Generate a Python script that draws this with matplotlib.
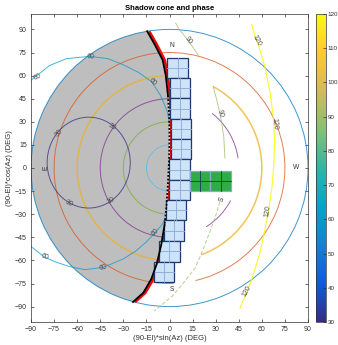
import numpy as np
import matplotlib
matplotlib.use("Agg")
import matplotlib.pyplot as plt
from matplotlib.patches import Circle, Arc, Ellipse, Polygon, Rectangle
from matplotlib.colors import LinearSegmentedColormap, Normalize
import matplotlib.colorbar as mcolorbar

plt.rcParams['font.family'] = ['Liberation Sans', 'DejaVu Sans']

# ---------------------------------------------------------------- data
# elevation rings: radius = 90 - El (deg)
ring_radius = [90, 75, 60, 45, 30, 15]
ring_color = [(0.0, 0.447, 0.741), (0.85, 0.325, 0.098), (0.929, 0.694, 0.125),
              (0.494, 0.184, 0.556), (0.466, 0.674, 0.188), (0.301, 0.745, 0.933)]
ring_width = [0.7, 0.7, 1.1, 0.7, 0.7, 0.7]
# drawn angular spans of each ring (deg, ccw from +x)
ring_spans = [[(0, 360)],
              [(-77, 272)],
              [(93, 268), (-70, 62)],
              [(90, 268), (8, 52), (-58, -28)],
              [(90, 270)],
              [(90, 270)]]

# phase angle contours (deg)
phase_levels = [30, 60, 90, 120]
phase30_center = (-52.5, 3.5)
phase30_size = (54, 59)
phase60_x = [-106, -100, -90, -78, -67, -52, -40, -30, -20, -11.6, -6, -1.8, 1, 2.8, 3,
             2, -1, -5, -9.4, -15, -22, -30, -43, -55, -65, -74, -81, -90, -100, -106, -106]
phase60_y = [20, 48, 57, 66.5, 71, 72.5, 71, 67, 62, 56, 47.5, 37.6, 25, 12, 0,
             -15, -30, -37, -42, -48, -54, -59, -64.5, -66, -64, -61, -58, -51, -42, -15, 20]
phase90_upper_x = [4, 6.8, 12, 18.7]
phase90_upper_y = [94, 89.4, 83, 73.3]
phase90_mid_x = [28.4, 31, 33.5, 35.3, 36]
phase90_mid_y = [52.9, 43, 32, 20, 6.5]
phase90_low_x = [32.8, 30, 26, 20.9, 16.6, 9, 2, -6.2, -10]
phase90_low_y = [-21.8, -31, -42, -55.3, -65, -74.7, -83, -89.8, -93]
phase120_x = [53.5, 54.4, 58, 62, 65.5, 67.4, 68.3, 67.8, 66.5, 64.5, 62, 58.5, 53.4, 49.5, 45.8]
phase120_y = [93, 89.8, 79, 65.9, 48, 33.5, 18, 2, -13, -27, -40, -56, -72.5, -82, -91]

# contour labels: (text, x, y, rotation)
phase_labels = [("30", -71.5, 23, 50), ("30", -37.4, 26.5, -33), ("30", -65.6, -22.7, -27),
                ("30", -37.6, -21, 32),
                ("60", -86, 59, 25), ("60", -51, 72.5, -5), ("60", -11.4, 55.7, -50),
                ("60", -9.4, -42, 45), ("60", -43, -64.6, 12), ("60", -81, -58, -20),
                ("90", 12, 83, -55), ("90", 32.8, 35.6, -75),
                ("120", 56.6, 83, -62), ("120", 68, 29, -85), ("120", 64.2, -28, 82),
                ("120", 50.2, -80, 62)]

# compass labels
compass_text = ["N", "S", "W", "E", "S"]
compass_x = [1.6, 1.6, 82.3, -80, 34]
compass_y = [79.6, -79, 0.6, 0, -20.7]
compass_rot = [0, 0, 0, 90, 70]

# shadow cone boundary (terminator)
shadow_x = [-14.5, -9.5, -4.4, -2.4, -1.0, -0.3, 0.0, -0.3, -1.0, -2.0, -3.2, -5.4, -8.2, -11.8, -17.0, -23.7]
shadow_y = [88.8, 80, 70, 60, 47, 35, 20, 5, -10, -25, -37, -50, -62, -72, -81, -87]
red_offset = 1.3

# instrument footprints (lower-left corner), light blue then green
fov_x = [-1.4, 0.3, 0.3, 0.8, 0.8, -0.1, -0.1, -2.3, -3.6, -6.8, -10.1]
fov_y = [58.4, 45.2, 32.0, 18.8, 5.6, -7.6, -20.8, -34.0, -47.2, -60.8, -74.2]
green_x = [13.0, 26.6]
green_y = [-15.0, -15.0]
fov_w, fov_h = 13.3, 13.2

cbar_ticks = [30, 40, 50, 60, 70, 80, 90, 100, 110, 120]

# parula-like colormap
parula = LinearSegmentedColormap.from_list("parula", [
    "#352a87", "#0f5cdd", "#1481d6", "#06a4ca", "#2eb7a4",
    "#87bf77", "#d1bb59", "#fec832", "#f9fb0e"])
norm = Normalize(30, 120)

# ---------------------------------------------------------------- figure
W, H = 338, 345
fig = plt.figure(figsize=(W / 100, H / 100), dpi=100)
ax = fig.add_axes([31 / W, 1 - 322 / H, 277 / W, 308 / H])
ax.set_xlim(-90, 90)
ax.set_ylim(-100, 100)

# gray shadow region: horizon disc clipped by terminator
clip_pts = list(zip(shadow_x, shadow_y))
clip_pts = [(shadow_x[0], 140)] + clip_pts + [(shadow_x[-1], -140), (-200, -140), (-200, 140)]
clip_poly = Polygon(clip_pts, closed=True, transform=ax.transData)
disc = Circle((0, 0), ring_radius[0], facecolor="#bebebe", edgecolor="none", zorder=1)
ax.add_patch(disc)
disc.set_clip_path(clip_poly)

LINE_ALPHA = 0.75

# elevation rings
for r, c, lw, spans in zip(ring_radius, ring_color, ring_width, ring_spans):
    for t1, t2 in spans:
        ax.add_patch(Arc((0, 0), 2 * r, 2 * r, theta1=t1, theta2=t2,
                         color=c, lw=lw, alpha=LINE_ALPHA, zorder=2))

# phase contours
c30, c60, c90, c120 = [parula(norm(v)) for v in phase_levels]
ax.add_patch(Ellipse(phase30_center, phase30_size[0], phase30_size[1],
                     fill=False, edgecolor=c30, lw=0.7, alpha=LINE_ALPHA, zorder=2))
ax.plot(phase60_x, phase60_y, color=c60, lw=0.7, alpha=LINE_ALPHA, zorder=2)
ax.plot(phase90_upper_x, phase90_upper_y, color=c90, lw=0.7, alpha=LINE_ALPHA, zorder=2)
ax.plot(phase90_mid_x, phase90_mid_y, color=c90, lw=0.7, alpha=LINE_ALPHA, zorder=2)
ax.plot(phase90_low_x, phase90_low_y, color=c90, lw=0.7, ls=(0, (4, 2)), alpha=LINE_ALPHA, zorder=2)
ax.plot(phase120_x, phase120_y, color=c120, lw=0.8, alpha=0.9, zorder=2)

for txt, x, y, rot in phase_labels:
    ax.text(x, y, txt, fontsize=5, color="#4a4a4a", rotation=rot,
            ha="center", va="center", zorder=6)

for txt, x, y, rot in zip(compass_text, compass_x, compass_y, compass_rot):
    ax.text(x, y, txt, fontsize=4.8, color="#303030", rotation=rot,
            ha="center", va="center", zorder=6)

# red terminator edge (beneath footprints)
ax.plot(np.array(shadow_x) + red_offset, shadow_y, color=(0.92, 0.05, 0.05),
        lw=2.0, solid_capstyle="butt", zorder=3)


def footprint(x0, y0, face, edge, inner, zo):
    ax.add_patch(Rectangle((x0, y0), fov_w, fov_h, facecolor=face,
                           edgecolor=edge, lw=0.9, zorder=zo))
    ax.plot([x0 + fov_w / 2, x0 + fov_w / 2], [y0, y0 + fov_h], color=inner, lw=0.6, zorder=zo + 0.1)
    ax.plot([x0, x0 + fov_w], [y0 + fov_h / 2, y0 + fov_h / 2], color=inner, lw=0.6, zorder=zo + 0.1)


for x0, y0 in zip(fov_x, fov_y):
    footprint(x0, y0, (0.80, 0.89, 0.98), (0.12, 0.22, 0.42), (0.55, 0.66, 0.82), 4)
for x0, y0 in zip(green_x, green_y):
    footprint(x0, y0, (0.18, 0.68, 0.28), (0.55, 0.66, 0.82), (0.12, 0.2, 0.45), 4)

# black terminator: solid ends, dotted middle
ax.plot(shadow_x[:5], shadow_y[:5], color="black", lw=1.3, zorder=5)
ax.plot(shadow_x[4:11], shadow_y[4:11], color="black", lw=1.3, ls=(0, (1, 1)), zorder=5)
ax.plot(shadow_x[10:], shadow_y[10:], color="black", lw=1.3, zorder=5)

# axes styling
ticks = list(range(-90, 91, 15))
ax.set_xticks(ticks)
ax.set_yticks(ticks)
ax.tick_params(direction="in", length=2.5, width=0.5, labelsize=5, colors="#303030",
               top=True, right=True, pad=3)
for s in ax.spines.values():
    s.set_linewidth(0.5)
    s.set_color("#303030")
ax.set_xlabel("(90-El)*sin(Az) (DEG)", fontsize=5.5, color="#303030", labelpad=1.5)
ax.set_ylabel("(90-El)*cos(Az) (DEG)", fontsize=5.5, color="#303030", labelpad=1)
ax.set_title("Shadow cone and phase", fontsize=5.5, fontweight="bold", pad=3)

# colorbar
cax = fig.add_axes([316 / W, 1 - 322 / H, 10 / W, 308 / H])
cb = mcolorbar.ColorbarBase(cax, cmap=parula, norm=norm, ticks=cbar_ticks)
cb.outline.set_linewidth(0.5)
cb.outline.set_edgecolor("#303030")
cax.tick_params(direction="in", length=2, width=0.5, labelsize=4.5, colors="#303030", pad=1)

fig.savefig("out.png", dpi=100)
